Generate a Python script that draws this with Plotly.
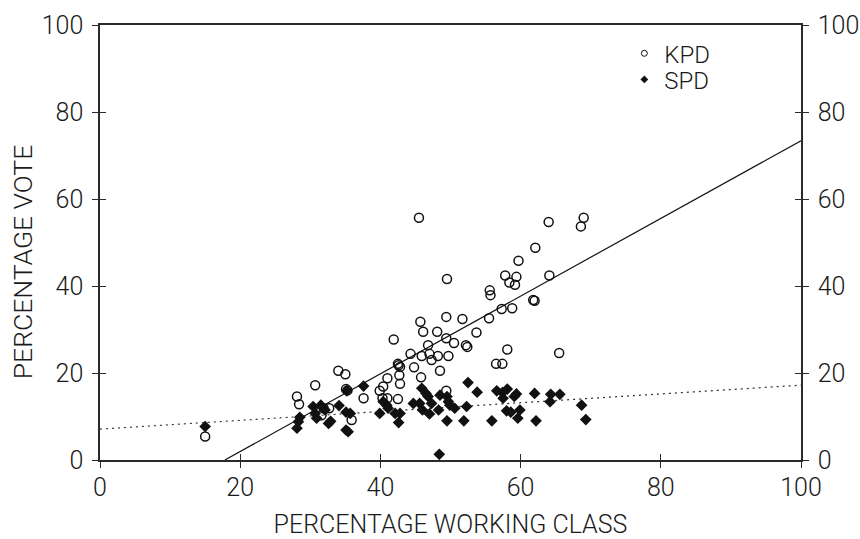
import plotly.graph_objects as go

# ---------------- data ----------------
kpd_x = [15.0, 28.1, 28.4, 30.7, 31.9, 32.7, 31.6, 34.0, 35.0, 35.1, 35.3, 35.9, 37.6,
         39.9, 40.4, 41.0, 40.3, 41.0, 42.5, 42.6, 42.7, 42.8, 41.9, 42.5, 42.8, 44.3,
         44.8, 45.8, 45.9, 45.7, 46.1, 46.8, 47.0, 47.3, 48.2, 48.1, 48.5, 49.4, 49.4,
         49.4, 49.5, 49.7, 45.5, 50.5, 51.7, 52.2, 52.4, 53.7, 55.5, 55.6, 55.7, 56.5,
         57.4, 57.3, 57.8, 58.1, 58.4, 58.8, 59.2, 59.4, 59.7, 61.8, 62.0, 62.1, 64.0,
         64.1, 65.5, 68.6, 69.0]
kpd_y = [5.4, 14.6, 12.8, 17.2, 11.9, 11.9, 10.3, 20.5, 19.7, 16.3, 16.0, 9.2, 14.2,
         15.9, 16.9, 18.8, 14.2, 14.2, 14.0, 21.8, 19.5, 17.5, 27.7, 22.1, 21.4, 24.4,
         21.3, 19.0, 23.9, 31.8, 29.5, 26.4, 24.4, 23.0, 23.9, 29.5, 20.5, 15.9, 28.0,
         32.9, 41.6, 23.9, 55.7, 26.9, 32.4, 26.4, 26.0, 29.3, 32.6, 39.0, 37.9, 22.1,
         22.1, 34.7, 42.4, 25.4, 40.8, 34.9, 40.3, 42.1, 45.8, 36.8, 36.6, 48.8, 54.7,
         42.4, 24.6, 53.7, 55.7]

spd_x = [15.0, 28.1, 28.3, 28.5, 30.4, 30.7, 30.9, 31.5, 32.1, 32.6, 32.9, 34.1, 35.1,
         35.7, 35.1, 35.4, 35.2, 37.6, 39.9, 40.4, 40.9, 41.1, 42.1, 42.8, 42.6, 44.7,
         45.6, 45.9, 46.5, 46.8, 46.0, 47.0, 47.3, 48.3, 48.5, 49.5, 48.4, 49.5, 49.7,
         49.9, 50.6, 51.9, 52.3, 52.5, 53.8, 55.9, 56.6, 57.4, 57.5, 58.1, 58.0, 58.6,
         59.1, 59.4, 59.9, 59.6, 62.0, 62.2, 64.3, 64.2, 65.6, 68.7, 69.3]
spd_y = [7.7, 7.3, 8.8, 9.8, 12.3, 10.7, 9.6, 12.6, 11.5, 8.4, 8.9, 12.5, 11.0,
         10.7, 6.9, 6.5, 15.9, 17.0, 10.7, 13.4, 12.6, 11.9, 10.7, 10.7, 8.6, 13.0,
         13.0, 16.5, 15.3, 14.6, 11.5, 10.6, 13.0, 11.5, 14.9, 14.6, 1.3, 9.0, 13.4,
         12.6, 11.9, 9.0, 12.3, 17.8, 15.6, 9.0, 15.9, 15.5, 14.2, 16.3, 11.3, 11.0,
         14.6, 15.2, 11.5, 9.6, 15.3, 9.0, 15.1, 13.4, 15.1, 12.6, 9.3]

# regression lines: (intercept, slope)
kpd_fit = (-15.9, 0.893)
spd_fit = (7.1, 0.101)

tick_vals = [0, 20, 40, 60, 80, 100]
tick_text = ["0", "20", "40", "60", "80", "100"]
x_title = "PERCENTAGE WORKING CLASS"
y_title = "PERCENTAGE VOTE"
series_names = ["KPD", "SPD"]

# ---------------- figure ----------------
FONT = dict(family="Roboto, 'Liberation Sans', Arial, sans-serif", color="#1a1a1a", weight=300)
AXC = "#2a2a2a"

fig = go.Figure()

# regression lines
k0 = -kpd_fit[0] / kpd_fit[1]
kx = [k0, 100]
fig.add_trace(go.Scatter(x=kx, y=[kpd_fit[0] + kpd_fit[1] * v for v in kx], mode="lines",
                         line=dict(color="#111", width=1.2), showlegend=False, hoverinfo="skip"))
sx = [0, 100]
fig.add_trace(go.Scatter(x=sx, y=[spd_fit[0] + spd_fit[1] * v for v in sx], mode="lines",
                         line=dict(color="#333", width=1.2, dash="2px,4px"), showlegend=False,
                         hoverinfo="skip"))

# data points
fig.add_trace(go.Scatter(x=kpd_x, y=kpd_y, mode="markers", showlegend=False,
                         marker=dict(symbol="circle-open", size=9, color="#111",
                                     line=dict(width=1.5, color="#111"))))
fig.add_trace(go.Scatter(x=spd_x, y=spd_y, mode="markers", showlegend=False,
                         marker=dict(symbol="diamond", size=9, color="#111")))

# legend entries (smaller symbols), each in its own legend box
fig.add_trace(go.Scatter(x=[None], y=[None], mode="markers", name=series_names[0],
                         legend="legend",
                         marker=dict(symbol="circle-open", size=6, color="#111",
                                     line=dict(width=1, color="#111"))))
fig.add_trace(go.Scatter(x=[None], y=[None], mode="markers", name=series_names[1],
                         legend="legend2",
                         marker=dict(symbol="diamond", size=6, color="#111")))

# helper traces so the overlay axes are drawn
for xa, ya in [("x2", "y"), ("x", "y2"), ("x", "y3"), ("x", "y4")]:
    fig.add_trace(go.Scatter(x=[None], y=[None], xaxis=xa, yaxis=ya, showlegend=False,
                             hoverinfo="skip"))

common = dict(range=[0, 100], tickvals=tick_vals, ticktext=tick_text, showgrid=False,
              zeroline=False, tickcolor=AXC, tickwidth=1.2, ticklen=6, automargin=False)
TICKF = dict(size=25, **FONT)
LEGF = dict(size=24, **FONT)

fig.update_layout(
    width=860, height=539,
    margin=dict(l=100, r=59, t=25, b=79),
    paper_bgcolor="white", plot_bgcolor="white",
    font=dict(size=22, **FONT),
    xaxis=dict(**common, ticks="outside", showline=True, linecolor=AXC, linewidth=1.5,
               mirror=True, tickfont=TICKF, ticklabelstandoff=-2,
               title=dict(text=x_title, font=dict(size=25, **FONT), standoff=21)),
    xaxis2=dict(**common, overlaying="x", side="bottom", ticks="inside",
                showticklabels=False, showline=False),
    yaxis=dict(**common, ticks="outside", showline=True, linecolor=AXC, linewidth=1.5,
               tickfont=TICKF, ticklabelstandoff=4),
    yaxis2=dict(**common, overlaying="y", side="right", ticks="outside", showline=True,
                linecolor=AXC, linewidth=1.5, tickfont=TICKF, ticklabelstandoff=4),
    yaxis3=dict(**common, overlaying="y", side="left", ticks="inside",
                showticklabels=False, showline=False),
    yaxis4=dict(**common, overlaying="y", side="right", ticks="inside",
                showticklabels=False, showline=False),
    legend=dict(x=0.748, y=0.934, xanchor="left", yanchor="middle", bgcolor="rgba(0,0,0,0)",
                font=LEGF, itemwidth=30),
    legend2=dict(x=0.748, y=0.874, xanchor="left", yanchor="middle", bgcolor="rgba(0,0,0,0)",
                 font=LEGF, itemwidth=30),
    annotations=[dict(text=y_title, textangle=-90, xref="paper", yref="paper",
                      x=-0.111, y=0.455, xanchor="center", yanchor="middle",
                      showarrow=False, font=dict(size=26.5, **FONT))],
)

fig.write_html("out.html")
